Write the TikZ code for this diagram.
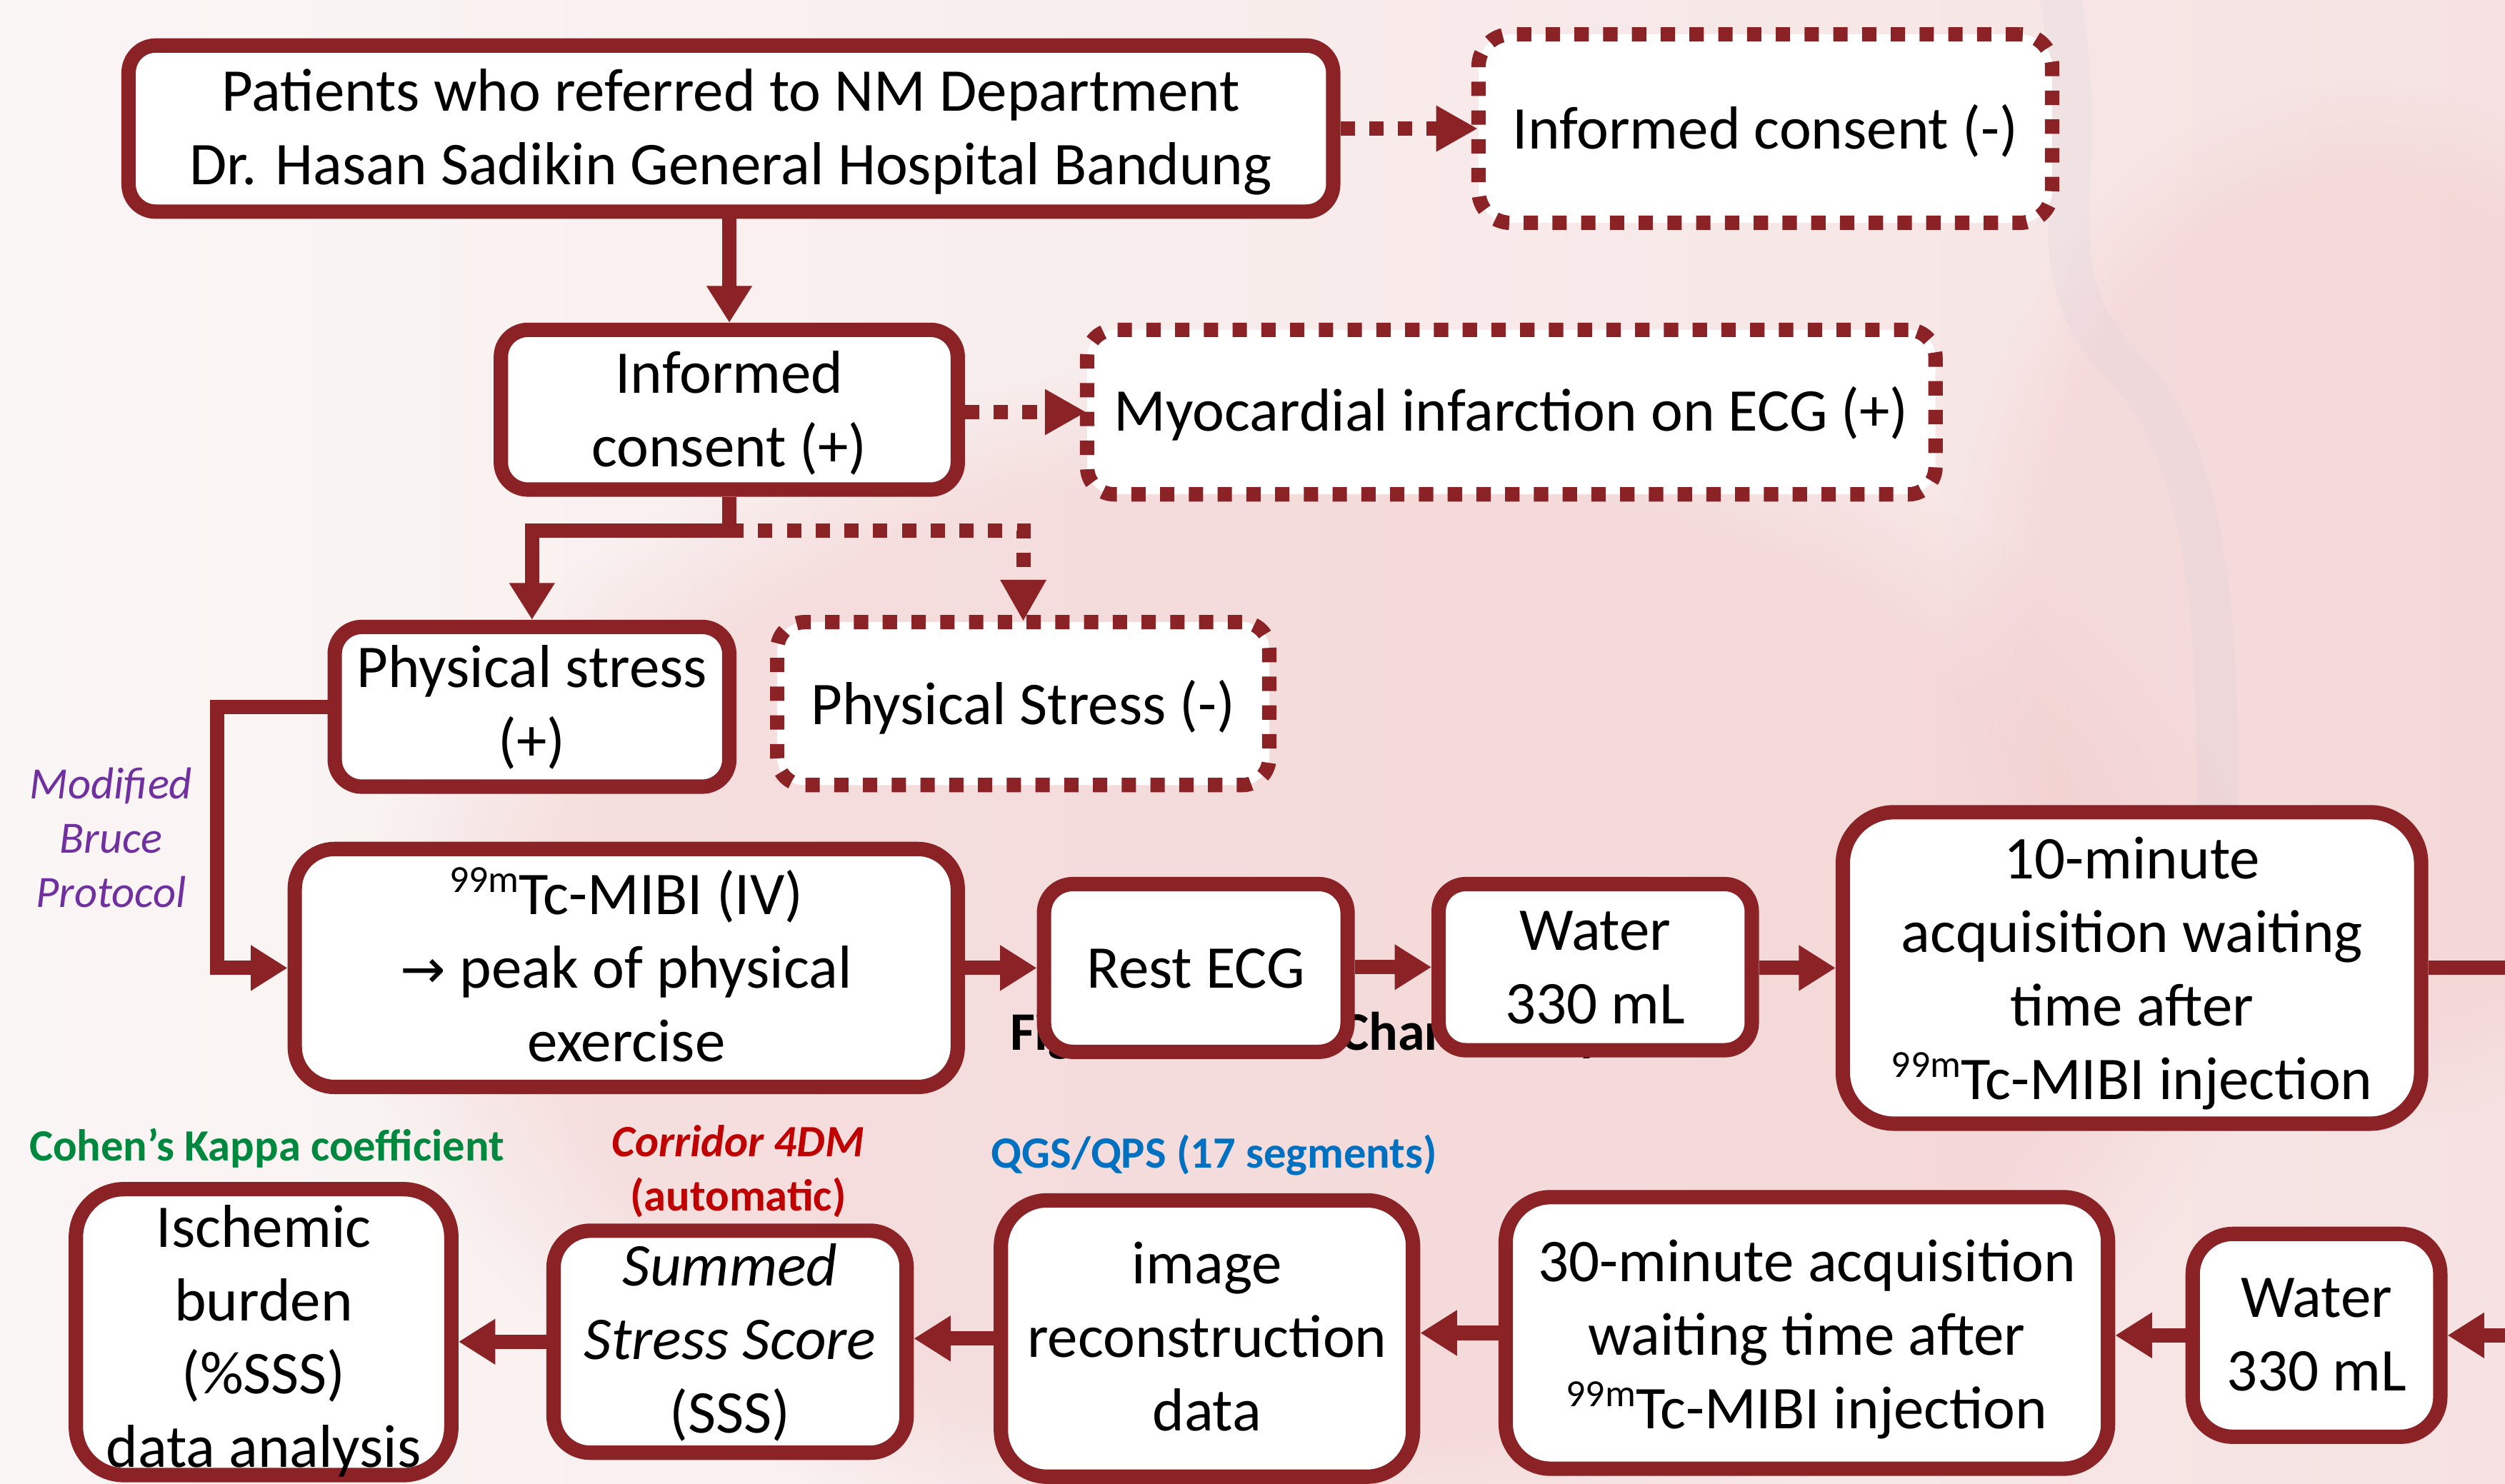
\documentclass[tikz,border=0pt]{standalone}
\usepackage{fontspec}
\setmainfont{Carlito}
\newfontfamily\symf{DejaVu Sans}
\usetikzlibrary{arrows.meta,fadings}
\definecolor{dred}{RGB}{139,34,38}
\definecolor{bgl}{RGB}{250,246,245}
\definecolor{bgr}{RGB}{246,226,226}
\definecolor{blob}{RGB}{240,196,196}
\definecolor{streak}{RGB}{196,198,214}
\definecolor{purp}{RGB}{112,48,160}
\definecolor{grn}{RGB}{0,136,62}
\definecolor{redl}{RGB}{192,0,0}
\definecolor{blu}{RGB}{0,112,192}
\newcommand\iso[1]{\raisebox{0.36em}{\fontsize{24}{24}\selectfont #1}}
\tikzset{
 sbox/.style={draw=dred, line width=9pt, fill=white, inner sep=0pt},
 dbox/.style={draw=dred, line width=9pt, fill=white, inner sep=0pt, dash pattern=on 9pt off 9pt},
 txt/.style={font=\fontsize{38}{46}\selectfont, align=center, inner sep=0pt},
 lbl/.style={font=\fontsize{28}{34}\selectfont\bfseries, align=center, inner sep=0pt},
 sarr/.style={draw=dred, line width=9pt, -{Triangle[length=23pt,width=27pt]}},
 sline/.style={draw=dred, line width=9pt},
 darr/.style={draw=dred, line width=9pt, dash pattern=on 9pt off 9pt, -{Triangle[length=26pt,width=27pt]}, shorten >=-4pt},
}
\begin{document}
\begin{tikzpicture}[x=1pt,y=-1pt]
\useasboundingbox (0,0) rectangle (1568,929);
% background
\shade[left color=bgl, right color=bgr] (0,0) rectangle (1568,929);
\fill[blob, opacity=0.4, path fading=circle with fuzzy edge 20 percent] (820,600) ellipse (600 and 380);
\fill[blob, opacity=0.3, path fading=circle with fuzzy edge 20 percent] (1480,380) ellipse (260 and 330);
\draw[streak, line width=26pt, opacity=0.12, line cap=round] (1290,0) .. controls (1310,120) and (1270,170) .. (1330,230) .. controls (1380,280) and (1390,380) .. (1388,540);

% hidden caption behind the boxes
\node[anchor=base west, font=\fontsize{34}{40}\selectfont\bfseries, inner sep=0pt] (cap) at (632,657.6) {Figure 1. Flow Chart Study};

% boxes
\node[sbox, minimum width=754pt, minimum height=104pt, rounded corners=17pt] (pat) at (457.5,80.5) {};
\node[dbox, minimum width=359pt, minimum height=118pt, rounded corners=20pt] (icneg) at (1105,80.5) {};
\node[sbox, minimum width=286pt, minimum height=100pt, rounded corners=17pt] (icpos) at (456.5,256.5) {};
\node[dbox, minimum width=531pt, minimum height=103pt, rounded corners=17pt] (mi) at (946,258) {};
\node[sbox, minimum width=247pt, minimum height=100pt, rounded corners=17pt] (psp) at (333,442.5) {};
\node[dbox, minimum width=308pt, minimum height=102pt, rounded corners=17pt] (psn) at (640.5,440.5) {};
\node[sbox, minimum width=415pt, minimum height=149pt, rounded corners=25pt] (mibi) at (392,606) {};
\node[sbox, minimum width=190pt, minimum height=105pt, rounded corners=18pt] (rest) at (748.5,606) {};
\node[sbox, minimum width=196pt, minimum height=104pt, rounded corners=17pt] (w1) at (998.5,605.5) {};
\node[sbox, minimum width=362pt, minimum height=195pt, rounded corners=32pt] (ten) at (1334.5,606) {};
\node[sbox, minimum width=155pt, minimum height=127pt, rounded corners=25pt] (w2) at (1450,836) {};
\node[sbox, minimum width=377pt, minimum height=170pt, rounded corners=28pt] (thirty) at (1131,834.5) {};
\node[sbox, minimum width=258pt, minimum height=173pt, rounded corners=29pt] (img) at (755.5,838) {};
\node[sbox, minimum width=221pt, minimum height=139pt, rounded corners=23pt] (sss) at (457,840) {};
\node[sbox, minimum width=235pt, minimum height=179pt, rounded corners=30pt] (isch) at (165,834) {};

% texts
\node[txt] (tpat) at (457.5,83.4) {\strut Patients who referred to NM Department\\\strut Dr. Hasan Sadikin General Hospital Bandung};
\node[txt] (ticneg) at (1105,83.8) {\strut Informed consent (-)};
\node[txt] (ticpos) at (456.5,259.9) {\strut Informed\\\strut consent (+)};
\node[txt] (tmi) at (946,260.8) {\strut Myocardial infarction on ECG (+)};
\node[txt] (tpsp) at (333,444.2) {\strut Physical stress\\\strut (+)};
\node[txt] (tpsn) at (640.5,444.2) {\strut Physical Stress (-)};
\node[txt] (tmibi) at (392,609.2) {\strut\iso{99m}Tc-MIBI (IV)\\\strut{\symf\fontsize{34}{46}\selectfont →} peak of physical\\\strut exercise};
\node[txt] (trest) at (748.5,609.3) {\strut Rest ECG};
\node[txt] (tw1) at (998.5,608.8) {\strut Water\\\strut 330 mL};
\node[txt] (tten) at (1334.5,610) {\strut 10-minute\\\strut acquisition waiting\\\strut time after\\\strut\iso{99m}Tc-MIBI injection};
\node[txt] (tw2) at (1450,838.5) {\strut Water\\\strut 330 mL};
\node[txt] (tthirty) at (1131,839.2) {\strut 30-minute acquisition\\\strut waiting time after\\\strut\iso{99m}Tc-MIBI injection};
\node[txt] (timg) at (755.5,840.6) {\strut image\\\strut reconstruction\\\strut data};
\node[txt] (tsss) at (457,841.8) {\strut\textit{Summed}\\\strut\textit{Stress Score}\\\strut (SSS)};
\node[txt] (tisch) at (165,840.5) {\strut Ischemic\\\strut burden\\\strut (\%SSS)\\\strut data analysis};

% labels
\node[txt, font=\fontsize{28}{34}\selectfont\itshape, text=purp] (bruce) at (69.5,527.2) {\strut Modified\\\strut Bruce\\\strut Protocol};
\node[lbl, text=grn] (cohen) at (167,719.8) {\strut Cohen’s Kappa coefficient};
\node[lbl, text=redl] (corr) at (462,734.3) {\strut\textit{Corridor 4DM}\\\strut(automatic)};
\node[lbl, text=blu] (qgs) at (760,724.6) {\strut QGS/QPS (17 segments)};

% helper coordinates
\coordinate (j) at (456.5,332);
\coordinate (bx) at (136,0);
\coordinate (edge) at (1575,0);

% connectors
\draw[darr] (pat.east) -- (icneg.west);
\draw[sarr] (icpos.north |- pat.south) -- (icpos.north);
\draw[darr] (mi.west -| icpos.east) -- (mi.west);
\draw[sline] (icpos.south) -- (j);
\draw[sarr] (j) -| (psp.north);
\draw[darr] (j) -| (psn.north);
\draw[sarr] (psp.west) -- (psp.west -| bx) -- (bx |- mibi.west) -- (mibi.west);
\draw[sarr] (rest.west -| mibi.east) -- (rest.west);
\draw[sarr] (w1.west -| rest.east) -- (w1.west);
\draw[sarr] (ten.west -| w1.east) -- (ten.west);
\draw[sline] (ten.east) -- (ten.east -| edge);
\draw[sarr] (w2.east -| edge) -- (w2.east);
\draw[sarr] (w2.west) -- (w2.west -| thirty.east);
\draw[sarr] (thirty.west) -- (thirty.west -| img.east);
\draw[sarr] (img.west) -- (img.west -| sss.east);
\draw[sarr] (sss.west) -- (sss.west -| isch.east);
\end{tikzpicture}
\end{document}
